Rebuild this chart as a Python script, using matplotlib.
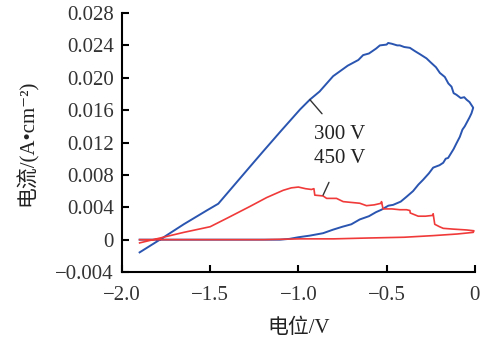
import matplotlib
matplotlib.use("Agg")
import matplotlib.pyplot as plt

# 300 V curve (blue): forward branch then return branch
v300 = [-1.90, -1.785, -1.65, -1.52, -1.454, -1.275, -1.20, -1.10, -0.99, -0.935,
        -0.88, -0.803, -0.72, -0.66, -0.633, -0.60, -0.56, -0.538, -0.50, -0.491, -0.47, -0.44,
        -0.425, -0.40, -0.368, -0.34, -0.31, -0.274, -0.25, -0.22, -0.198, -0.17, -0.15, -0.132,
        -0.12, -0.104, -0.08, -0.06, -0.047, -0.03, -0.009,
        -0.019, -0.03, -0.057, -0.07, -0.085, -0.104, -0.12, -0.151, -0.165, -0.179, -0.20,
        -0.236, -0.26, -0.293, -0.32, -0.35, -0.387, -0.42, -0.463, -0.49, -0.529, -0.56,
        -0.60, -0.652, -0.70, -0.75, -0.803, -0.86, -0.935, -1.00, -1.05, -1.105, -1.30, -1.60, -1.90]
i300 = [-0.00157, 0.0000, 0.0019, 0.0036, 0.00444, 0.0090, 0.0109, 0.0134, 0.0161, 0.0173,
        0.0183, 0.0202, 0.0215, 0.0222, 0.0228, 0.0230, 0.0236, 0.0240, 0.0241, 0.0243, 0.0242, 0.0240,
        0.0240, 0.0238, 0.0237, 0.0233, 0.0229, 0.0224, 0.0219, 0.0213, 0.0206, 0.0201, 0.0193, 0.0189,
        0.0181, 0.0179, 0.0175, 0.0176, 0.0173, 0.0170, 0.0163,
        0.0156, 0.0151, 0.0140, 0.0136, 0.0127, 0.0119, 0.0112, 0.0101, 0.0100, 0.0095, 0.0092,
        0.0089, 0.0082, 0.0074, 0.0068, 0.0060, 0.0053, 0.0047, 0.0043, 0.0042, 0.0037, 0.0034,
        0.0029, 0.0025, 0.0019, 0.0016, 0.00124, 0.0008, 0.0005, 0.0003, 0.0001, 0.0000, 0.0000, 0.0000, 0.0000]

# 450 V curve (red)
v450 = [-1.90, -1.785, -1.65, -1.50, -1.40, -1.275, -1.18, -1.086, -1.04, -1.00, -0.96, -0.926, -0.912,
        -0.907, -0.86, -0.84, -0.784, -0.746, -0.70, -0.652, -0.614, -0.57, -0.53, -0.529, -0.52,
        -0.47, -0.425, -0.387, -0.368, -0.366, -0.321, -0.28, -0.238, -0.236, -0.227, -0.20, -0.179,
        -0.12, -0.047, -0.005,
        -0.009, -0.10, -0.236, -0.40, -0.614, -0.80, -0.99, -1.20, -1.50, -1.90]
i450 = [-0.0004, 0.0002, 0.0009, 0.0016, 0.0027, 0.0041, 0.0052, 0.0061, 0.0064, 0.0065, 0.0063, 0.0062, 0.0063,
        0.0055, 0.0054, 0.0051, 0.0051, 0.0047, 0.0046, 0.0045, 0.0042, 0.0043, 0.0045, 0.0047, 0.0038,
        0.0038, 0.0037, 0.0037, 0.0036, 0.0033, 0.0029, 0.0029, 0.0030, 0.0032, 0.0019, 0.0016, 0.0014,
        0.0013, 0.0012, 0.0011,
        0.0009, 0.0007, 0.0005, 0.0003, 0.0002, 0.0001, 0.0001, 0.0000, 0.0000, 0.0000]

xticks = [-2.0, -1.5, -1.0, -0.5, 0]
xticklabels = ["\u22122.0", "\u22121.5", "\u22121.0", "\u22120.5", "0"]
yticks = [-0.004, 0, 0.004, 0.008, 0.012, 0.016, 0.020, 0.024, 0.028]
yticklabels = ["\u22120.004", "0", "0.004", "0.008", "0.012", "0.016", "0.020", "0.024", "0.028"]

plt.rcParams['font.family'] = ['Liberation Serif', 'Noto Sans CJK SC', 'DejaVu Serif']

fig = plt.figure(figsize=(4.84, 3.47), dpi=100)
ax = fig.add_axes([0.252, 0.216, 0.729, 0.7465])

ax.plot(v300, i300, color='#2a55b0', lw=1.4)
ax.plot(v450, i450, color='#f03a3a', lw=1.2)

ax.set_xlim(-2.0, 0.0)
ax.set_ylim(-0.004, 0.028)
ax.set_xticks(xticks)
ax.set_xticklabels(xticklabels)
ax.set_yticks(yticks)
ax.set_yticklabels(yticklabels)

for s in ['top', 'right']:
    ax.spines[s].set_visible(False)
for s in ['left', 'bottom']:
    ax.spines[s].set_linewidth(1.5)
ax.tick_params(direction='in', length=5, width=1.5, labelsize=15, colors='black', pad=6)
ax.tick_params(axis='x', pad=10)
for lab in ax.get_xticklabels() + ax.get_yticklabels():
    lab.set_color('#333333')

ax.set_xlabel("电位/V", fontsize=15, labelpad=10, color='#222222')
ax.set_ylabel("电流/(A\u2022cm\u207b\u00b2)", fontsize=15, labelpad=12, color='#222222')

ax.annotate("300 V", xy=(-0.935, 0.0173), xytext=(-0.765, 0.0130),
            fontsize=15, ha='center', va='center', color='#222222',
            arrowprops=dict(arrowstyle='-', color='#333333', lw=1, shrinkA=8, shrinkB=0))
ax.annotate("450 V", xy=(-0.86, 0.0055), xytext=(-0.765, 0.0100),
            fontsize=15, ha='center', va='center', color='#222222',
            arrowprops=dict(arrowstyle='-', color='#333333', lw=1, shrinkA=9, shrinkB=0))

fig.savefig("out.png", dpi=100)
